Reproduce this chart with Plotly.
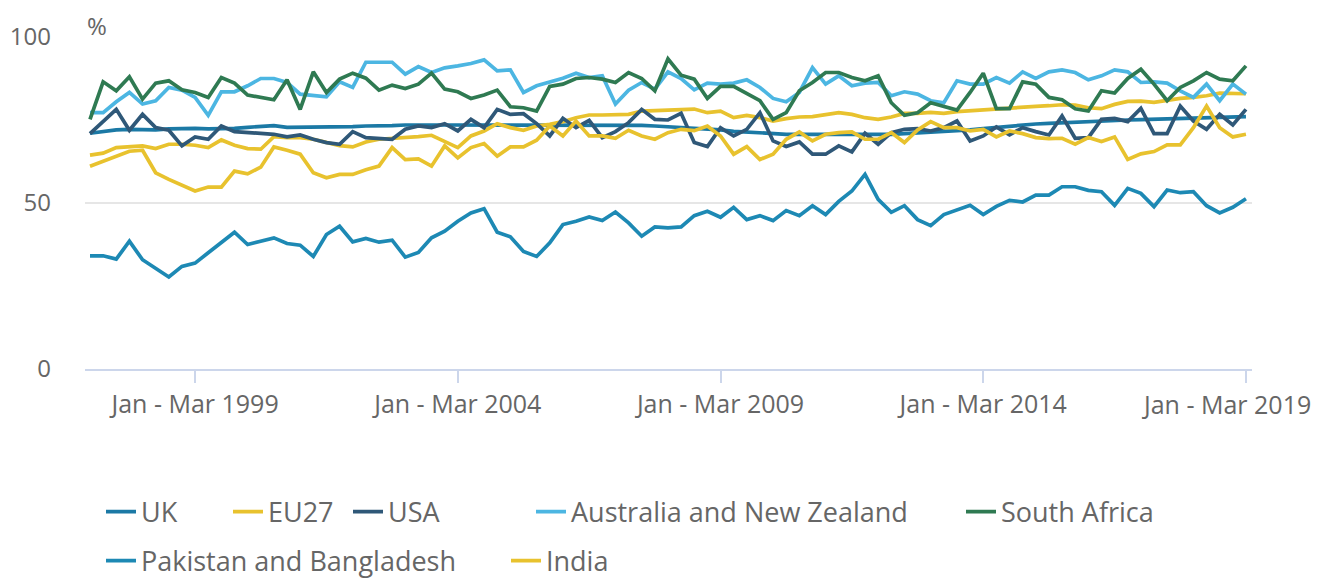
import plotly.graph_objects as go

# ---------------- data ----------------
years = list(range(1997, 2020))
quarter_names = ["Jan - Mar", "Apr - Jun", "Jul - Sep", "Oct - Dec"]
quarters = [f"{q} {y}" for y in years for q in quarter_names][:89]

tick_labels = ["Jan - Mar 1999", "Jan - Mar 2004", "Jan - Mar 2009",
               "Jan - Mar 2014", "Jan - Mar 2019"]

uk = [71.0, 71.5, 72.0, 72.2, 72.0, 72.0, 72.3, 72.5, 72.5, 72.3,
      72.3, 72.5, 72.8, 73.0, 73.3, 72.8, 72.8, 73.0, 73.0, 72.8,
      73.0, 73.2, 73.2, 73.3, 73.5, 73.4, 73.5, 73.5, 73.5, 73.6,
      73.5, 73.6, 73.5, 73.6, 73.5, 73.5, 73.5, 73.6, 73.5, 73.4,
      73.5, 73.6, 73.4, 73.2, 73.0, 72.8, 72.6, 72.3, 72.0, 71.6,
      71.4, 71.2, 70.8, 70.7, 70.7, 70.7, 70.8, 70.6, 70.6, 70.6,
      70.6, 70.7, 70.9, 71.1, 71.3, 71.5, 71.7, 72.0, 72.4, 72.8,
      73.2, 73.5, 73.8, 74.0, 74.2, 74.4, 74.6, 74.8, 74.9, 75.0,
      75.1, 75.2, 75.3, 75.4, 75.5, 75.6, 75.7, 75.8, 76.0]

eu27 = [64.4, 65.0, 66.7, 67.0, 67.2, 66.4, 67.7, 67.7, 67.4, 66.7,
        69.0, 67.4, 66.4, 66.2, 70.0, 69.7, 69.7, 69.2, 68.2, 67.3,
        66.9, 68.4, 69.2, 69.4, 69.7, 70.0, 70.4, 68.7, 66.7, 70.2,
        71.7, 73.9, 72.7, 71.9, 73.2, 73.7, 74.5, 75.7, 76.5, 76.5,
        76.5, 76.7, 77.7, 77.9, 78.0, 78.2, 78.3, 77.2, 77.7, 75.7,
        76.4, 75.7, 74.7, 75.4, 75.9, 76.0, 76.7, 77.2, 76.7, 75.7,
        75.2, 75.9, 77.0, 77.0, 77.3, 77.0, 77.5, 77.8, 77.9, 78.4,
        78.7, 78.9, 79.1, 79.3, 79.6, 79.5, 78.7, 78.4, 79.7, 80.6,
        80.7, 80.3, 81.0, 81.5, 81.8, 82.3, 83.1, 83.0, 82.9]

usa = [70.9, 74.7, 78.2, 71.9, 76.7, 72.7, 71.9, 67.2, 69.9, 69.2,
       73.2, 71.5, 71.2, 70.9, 70.7, 69.9, 70.5, 69.2, 68.2, 67.7,
       71.5, 69.7, 69.5, 69.2, 72.2, 73.2, 72.7, 73.9, 71.7, 75.2,
       72.7, 78.2, 76.7, 76.9, 73.9, 70.2, 75.5, 72.7, 74.9, 69.7,
       71.5, 74.2, 78.2, 75.2, 75.0, 77.0, 68.2, 67.0, 72.7, 70.2,
       72.2, 77.2, 68.7, 67.0, 68.4, 64.7, 64.7, 67.2, 65.4, 71.0,
       67.7, 71.2, 72.2, 72.4, 71.7, 72.7, 74.7, 68.7, 70.2, 72.9,
       70.5, 72.7, 71.5, 70.5, 76.2, 69.5, 69.7, 75.2, 75.5, 74.5,
       78.5, 70.9, 70.9, 79.2, 74.7, 72.2, 76.7, 73.5, 78.2]

aus_nz = [77.2, 77.2, 80.5, 83.3, 79.8, 80.8, 84.8, 84.0, 81.8, 76.4,
          83.5, 83.5, 85.3, 87.5, 87.5, 86.3, 82.8, 82.3, 82.0, 86.5,
          84.8, 92.4, 92.5, 92.4, 88.8, 91.1, 89.3, 90.7, 91.3, 92.0,
          93.1, 89.8, 90.1, 83.3, 85.3, 86.5, 87.6, 89.1, 87.8, 88.3,
          79.8, 84.0, 86.3, 84.3, 89.5, 87.5, 84.1, 86.1, 85.8, 86.1,
          87.1, 84.8, 81.5, 80.5, 83.3, 90.8, 85.8, 88.3, 85.3, 86.1,
          86.3, 82.3, 83.5, 82.8, 80.8, 80.2, 86.8, 85.8, 85.8, 87.8,
          86.1, 89.5, 87.5, 89.5, 90.1, 89.3, 87.1, 88.3, 90.1, 89.5,
          86.3, 86.5, 86.1, 83.8, 81.8, 85.8, 80.8, 85.8, 82.8]

south_africa = [75.2, 86.5, 83.8, 88.0, 81.3, 86.1, 86.8, 84.1, 83.3, 81.8,
                87.8, 86.1, 82.5, 81.8, 81.1, 87.1, 78.2, 89.5, 83.3, 87.3,
                89.1, 87.6, 84.0, 85.5, 84.5, 85.8, 89.1, 84.3, 83.5, 81.5,
                82.5, 84.0, 79.0, 78.7, 77.7, 85.1, 85.8, 87.5, 87.8, 87.3,
                86.3, 89.3, 87.5, 83.8, 93.4, 88.5, 87.3, 81.5, 85.1, 85.1,
                82.8, 80.8, 75.2, 77.2, 83.8, 86.3, 89.3, 89.3, 87.8, 86.8,
                88.3, 80.2, 76.4, 77.2, 80.2, 79.0, 78.0, 83.3, 89.1, 78.4,
                78.4, 86.5, 85.8, 81.8, 81.1, 78.4, 77.7, 83.8, 83.1, 87.5,
                90.3, 85.8, 80.8, 84.8, 86.8, 89.3, 87.3, 86.8, 91.3]

pak_bang = [34.1, 34.1, 33.1, 38.5, 32.9, 30.4, 27.7, 30.9, 31.9, 35.0,
            38.2, 41.2, 37.5, 38.5, 39.5, 37.8, 37.3, 33.9, 40.5, 43.0,
            38.3, 39.3, 38.2, 38.8, 33.7, 35.1, 39.5, 41.5, 44.5, 47.0,
            48.3, 41.2, 39.8, 35.4, 33.9, 38.0, 43.5, 44.5, 45.8, 44.7,
            47.3, 44.0, 40.0, 42.8, 42.5, 42.8, 46.2, 47.5, 45.7, 48.7,
            45.0, 46.2, 44.7, 47.7, 46.2, 49.2, 46.5, 50.5, 53.6, 58.6,
            51.1, 47.2, 49.2, 45.0, 43.2, 46.5, 48.0, 49.3, 46.5, 49.0,
            50.8, 50.3, 52.4, 52.4, 54.9, 54.9, 53.8, 53.4, 49.3, 54.4,
            52.9, 48.9, 53.9, 53.1, 53.4, 49.2, 47.0, 48.7, 51.3]

india = [61.1, 62.6, 64.1, 65.6, 65.9, 59.1, 57.1, 55.4, 53.6, 54.8,
         54.8, 59.6, 58.8, 60.8, 66.9, 65.9, 64.7, 59.1, 57.6, 58.6,
         58.6, 60.0, 61.1, 66.7, 63.1, 63.3, 61.1, 67.2, 63.6, 66.7,
         67.9, 64.1, 66.9, 66.9, 68.9, 73.2, 70.2, 74.7, 70.2, 70.2,
         69.5, 71.9, 70.2, 69.2, 71.2, 72.2, 71.8, 73.2, 70.2, 64.7,
         67.0, 63.1, 64.7, 69.2, 71.4, 68.7, 70.7, 71.2, 71.4, 69.2,
         69.2, 71.2, 68.2, 72.0, 74.5, 72.7, 72.7, 71.7, 72.2, 69.9,
         71.7, 70.9, 69.7, 69.4, 69.5, 67.7, 69.7, 68.5, 69.9, 63.1,
         64.8, 65.5, 67.5, 67.5, 72.7, 79.2, 72.7, 69.9, 70.7]

series = [
    ("UK", uk, "#1b79a5"),
    ("EU27", eu27, "#e8c22e"),
    ("USA", usa, "#2f5878"),
    ("Australia and New Zealand", aus_nz, "#4cb6e2"),
    ("South Africa", south_africa, "#2f7a52"),
    ("Pakistan and Bangladesh", pak_bang, "#1d89b4"),
    ("India", india, "#e8c22e"),
]

# ---------------- layout helpers ----------------
# The page body adds an 8px offset; the figure is sized to fill the rest.
OFF = 8
W, H = 1323 - OFF, 580 - OFF
L, R, T, B = 85 - OFF, 71, 37 - OFF, 211
plot_w = W - L - R
plot_h = H - T - B

# legend anchors in page pixels (left edge, vertical centre)
legend_px = [(101, 512), (228, 512), (348, 512), (531, 512), (961, 512),
             (101, 561), (506, 561)]

TEXT = "#666666"
TICKFONT = dict(family="Open Sans", size=25, color=TEXT)
fig = go.Figure()
layout_legends = {}
for k, ((name, vals, color), (px, py)) in enumerate(zip(series, legend_px)):
    key = "legend" if k == 0 else f"legend{k + 1}"
    fig.add_trace(go.Scatter(
        x=quarters, y=vals, name=name, mode="lines",
        line=dict(color=color, width=3.7),
        legend=key,
    ))
    fx, fy = px - OFF, py - OFF
    layout_legends[key] = dict(
        x=(fx - L) / plot_w, y=(T + plot_h - fy) / plot_h,
        xanchor="left", yanchor="middle",
        orientation="h", bgcolor="rgba(0,0,0,0)", borderwidth=0,
        font=dict(family="Open Sans", size=27, color=TEXT),
    )

# last tick label is nudged left so that it stays inside the chart
ticktext = list(tick_labels)
ticktext[-1] = ""
label_y = -(404 - 369) / plot_h

fig.update_layout(
    width=W, height=H,
    margin=dict(l=L, r=R, t=T, b=B, autoexpand=False),
    paper_bgcolor="white", plot_bgcolor="white",
    font=dict(family="Open Sans", size=24, color=TEXT),
    showlegend=True,
    xaxis=dict(
        type="category",
        range=[-0.38, 88.46],
        tickmode="array", tickvals=tick_labels, ticktext=ticktext,
        showgrid=False, showline=True, linecolor="#ccd6eb", linewidth=2,
        ticks="outside", ticklen=12, tickwidth=2, tickcolor="#ccd6eb",
        tickfont=TICKFONT,
        zeroline=False,
    ),
    yaxis=dict(
        range=[0, 100], tickvals=[0, 50, 100],
        showgrid=True, gridcolor="#e6e6e6", gridwidth=2,
        zeroline=False, showline=False, ticks="",
        ticklabelstandoff=33,
        tickfont=dict(family="Open Sans", size=24, color=TEXT),
    ),
    annotations=[
        dict(text="%", xref="paper", yref="paper", x=0, y=1 + 12 / plot_h,
             xanchor="left", yanchor="middle", showarrow=False,
             font=dict(family="Open Sans", size=24, color=TEXT)),
        dict(text=tick_labels[-1], xref="x", yref="paper",
             x=tick_labels[-1], y=label_y, xanchor="center",
             yanchor="middle", xshift=-19, showarrow=False,
             font=TICKFONT),
    ],
    **layout_legends,
)

fig.write_html("out.html")
